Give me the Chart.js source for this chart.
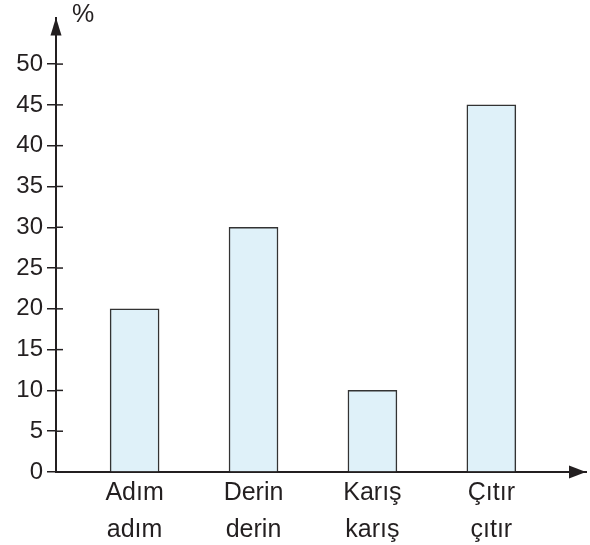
<!DOCTYPE html>
<html>
<head>
<meta charset="utf-8">
<script src="https://cdn.jsdelivr.net/npm/chart.js@4"></script>
<style>
  body { margin: 0; background: #fff; }
  #wrap { width: 590px; height: 545px; }
</style>
</head>
<body>
<div id="wrap"><canvas id="chart" width="590" height="545"></canvas></div>
<script>
// data
var categories = [['Adım', 'adım'], ['Derin', 'derin'], ['Karış', 'karış'], ['Çıtır', 'çıtır']];
var percents = [20, 30, 10, 45];
var yTicks = [0, 5, 10, 15, 20, 25, 30, 35, 40, 45, 50];
var yUnit = '%';

var ink = '#231f20';
var font = 'Liberation Sans, Arial, sans-serif';

// arrows, inner halves of the y ticks and the % sign
var axisExtras = {
  id: 'axisExtras',
  afterDraw: function(chart) {
    var ctx = chart.ctx;
    var area = chart.chartArea;
    var y = chart.scales.y;
    ctx.save();
    ctx.strokeStyle = ink;
    ctx.fillStyle = ink;
    ctx.lineWidth = 1.5;
    yTicks.forEach(function(v) {
      var py = y.getPixelForValue(v);
      ctx.beginPath();
      ctx.moveTo(area.left, py);
      ctx.lineTo(area.left + 7, py);
      ctx.stroke();
    });
    // y arrow
    ctx.beginPath();
    ctx.moveTo(area.left, area.top - 1);
    ctx.lineTo(area.left - 5.5, area.top + 17);
    ctx.lineTo(area.left + 5.5, area.top + 17);
    ctx.closePath();
    ctx.fill();
    // x arrow
    ctx.beginPath();
    ctx.moveTo(area.right, area.bottom);
    ctx.lineTo(area.right - 17, area.bottom - 6.5);
    ctx.lineTo(area.right - 17, area.bottom + 6.5);
    ctx.closePath();
    ctx.fill();
    ctx.font = '25px ' + font;
    ctx.textAlign = 'left';
    ctx.textBaseline = 'alphabetic';
    ctx.fillText(yUnit, area.left + 16, 22);
    ctx.restore();
  }
};

new Chart(document.getElementById('chart'), {
  type: 'bar',
  data: {
    datasets: [{
      data: percents.map(function(v, i) { return { x: i + 1, y: v }; }),
      backgroundColor: '#dff1f9',
      borderColor: '#333333',
      borderWidth: 1.5,
      barThickness: 49
    }]
  },
  options: {
    responsive: false,
    animation: false,
    devicePixelRatio: 1,
    layout: { padding: { top: 15, right: 4, left: 0, bottom: 0 } },
    plugins: { legend: { display: false }, tooltip: { enabled: false } },
    scales: {
      x: {
        type: 'linear',
        offset: false,
        bounds: 'data',
        min: 0.339,
        max: 4.796,
        afterBuildTicks: function(scale) {
          scale.ticks = categories.map(function(c, i) { return { value: i + 1 }; });
        },
        afterFit: function(scale) { scale.height = 73; },
        grid: { display: false, drawTicks: false },
        border: { display: true, color: ink, width: 2 },
        ticks: {
          autoSkip: false,
          maxRotation: 0,
          padding: 2,
          color: ink,
          font: { family: font, size: 25, lineHeight: 1.5 },
          callback: function(value, index) { return categories[index]; }
        }
      },
      y: {
        min: 0,
        max: 55.6,
        afterBuildTicks: function(scale) {
          scale.ticks = yTicks.map(function(v) { return { value: v }; });
        },
        afterFit: function(scale) { scale.width = 56; },
        grid: { display: true, drawOnChartArea: false, drawTicks: true, tickLength: 9, color: ink, lineWidth: 1.5 },
        border: { display: true, color: ink, width: 2 },
        ticks: {
          padding: 4,
          color: ink,
          font: { family: font, size: 24 }
        }
      }
    }
  },
  plugins: [axisExtras]
});
</script>
</body>
</html>
